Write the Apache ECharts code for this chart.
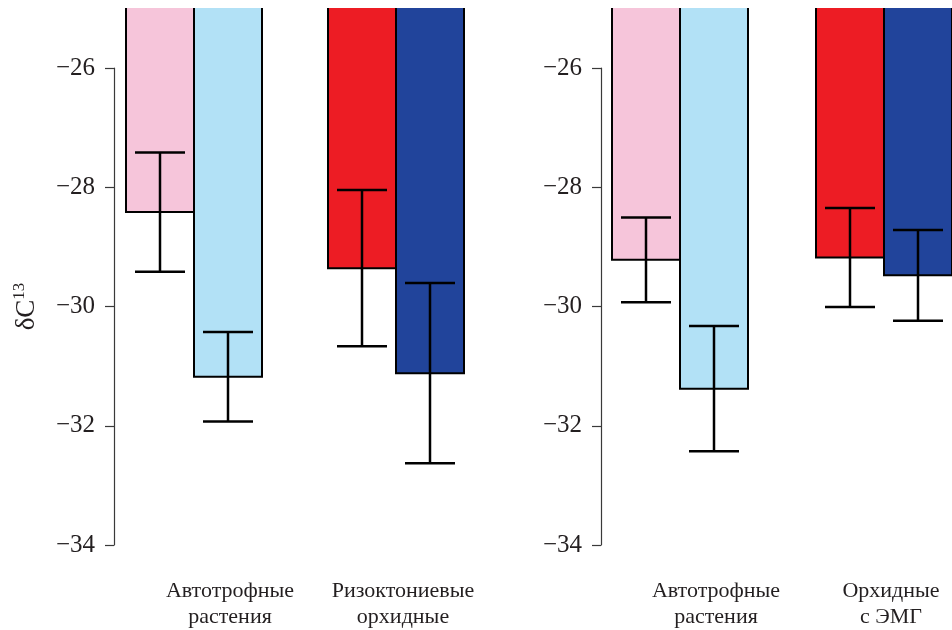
<!DOCTYPE html>
<html>
<head>
<meta charset="utf-8">
<script src="https://cdn.jsdelivr.net/npm/echarts@6/dist/echarts.min.js"></script>
<style>
    html, body { margin: 0; padding: 0; background: #fff; }
    #chart { width: 952px; height: 630px; }
</style>
</head>
<body>
<div id="chart"></div>
<script>
    // категории по панелям
    var catsLeft = ['Автотрофные\nрастения', 'Ризоктониевые\nорхидные']
    var catsRight = ['Автотрофные\nрастения', 'Орхидные\nс ЭМГ']

    // левая панель: первый и второй столбец в каждой группе
    var leftMean1 = [-28.42, -29.36]
    var leftErr1 = [1.0, 1.31]
    var leftMean2 = [-31.18, -31.12]
    var leftErr2 = [0.75, 1.51]

    // правая панель
    var rightMean1 = [-29.22, -29.18]
    var rightErr1 = [0.71, 0.83]
    var rightMean2 = [-31.38, -29.48]
    var rightErr2 = [1.05, 0.76]

    var colors1 = ['#f6c5da', '#ed1c24']
    var colors2 = ['#b2e1f6', '#21449b']

    var yTicks = [-34, -32, -30, -28, -26]

    var font = 'Liberation Serif'
    var BAR_W = 68

    function bars(mean, colors, xi) {
        return {
            type: 'bar',
            xAxisIndex: xi,
            yAxisIndex: xi,
            barWidth: BAR_W,
            barGap: '0%',
            silent: true,
            data: mean.map(function (v, i) {
                return { value: v, itemStyle: { color: colors[i], borderWidth: 0 } }
            })
        }
    }

    // контур столбца (без верхней грани) + планки погрешностей
    function outlines(mean, err, xi, shift) {
        return {
            type: 'custom',
            xAxisIndex: xi,
            yAxisIndex: xi,
            silent: true,
            z: 5,
            data: mean.map(function (v, i) { return [i, v, v - err[i], v + err[i]] }),
            renderItem: function (params, api) {
                var m = api.coord([api.value(0), api.value(1)])
                var lo = api.coord([api.value(0), api.value(2)])
                var hi = api.coord([api.value(0), api.value(3)])
                var top = params.coordSys.y
                var x = m[0] + shift
                var x0 = x - BAR_W / 2, x1 = x + BAR_W / 2
                var cap = 25
                var st = { stroke: '#000', lineWidth: 2.5, fill: null }
                return {
                    type: 'group',
                    children: [
                        { type: 'polyline', shape: { points: [[x0, top], [x0, m[1]], [x1, m[1]], [x1, top]] },
                          style: { stroke: '#000', lineWidth: 2, fill: null } },
                        { type: 'line', shape: { x1: x, y1: lo[1], x2: x, y2: hi[1] }, style: st },
                        { type: 'line', shape: { x1: x - cap, y1: lo[1], x2: x + cap, y2: lo[1] }, style: st },
                        { type: 'line', shape: { x1: x - cap, y1: hi[1], x2: x + cap, y2: hi[1] }, style: st }
                    ]
                }
            }
        }
    }

    var labelRich = {
        a: { fontFamily: font, fontSize: 22, color: '#231f20', lineHeight: 26, padding: [0, 0, 0, 72] },
        b: { fontFamily: font, fontSize: 22, color: '#231f20', lineHeight: 26, padding: [0, 0, 0, 14] }
    }

    function catAxis(cats, gi) {
        return {
            type: 'category',
            gridIndex: gi,
            data: cats,
            axisLine: { show: false },
            axisTick: { show: false },
            axisLabel: {
                margin: 33,
                interval: 0,
                formatter: function (v, i) {
                    var st = i === 0 ? 'a' : 'b'
                    return v.split('\n').map(function (s) { return '{' + st + '|' + s + '}' }).join('\n')
                },
                rich: labelRich
            }
        }
    }

    function hiddenY(gi) {
        return {
            type: 'value', gridIndex: gi, min: -34, max: -25,
            axisLine: { show: false }, axisTick: { show: false },
            axisLabel: { show: false }, splitLine: { show: false }
        }
    }

    function shownY(gi, withName) {
        var ax = {
            type: 'value', gridIndex: gi, min: yTicks[0], max: yTicks[yTicks.length - 1], interval: 2,
            axisLine: { show: true, lineStyle: { color: '#3a3a3a', width: 1.2 } },
            axisTick: { show: true, length: 9, lineStyle: { color: '#3a3a3a', width: 1.2 } },
            axisLabel: {
                margin: 19, fontFamily: font, fontSize: 25, color: '#231f20',
                formatter: function (v) { return String(v).replace('-', '\u2212') }
            },
            splitLine: { show: false }
        }
        if (withName) {
            ax.name = '{d|δC}{s|13}'
            ax.nameLocation = 'middle'
            ax.nameRotate = 90
            ax.nameGap = 74
            ax.nameTextStyle = {
                rich: {
                    d: { fontFamily: font, fontStyle: 'normal', fontSize: 27, color: '#231f20', verticalAlign: 'bottom' },
                    s: { fontFamily: font, fontStyle: 'normal', fontSize: 17, color: '#231f20', verticalAlign: 'top', padding: [0, 0, 12, 0] }
                }
            }
        }
        return ax
    }

    var myChart = echarts.init(document.getElementById('chart'))
    var option = {
        animation: false,
        backgroundColor: '#fff',
        grid: [
            { left: 93, width: 404, top: 8, bottom: 85, outerBoundsMode: 'none' },    // столбцы слева
            { left: 578, width: 408, top: 8, bottom: 85, outerBoundsMode: 'none' },   // столбцы справа
            { left: 114, width: 10, top: 68, bottom: 85, outerBoundsMode: 'none' },   // ось слева
            { left: 601, width: 10, top: 68, bottom: 85, outerBoundsMode: 'none' }    // ось справа
        ],
        xAxis: [
            catAxis(catsLeft, 0),
            catAxis(catsRight, 1),
            { type: 'category', gridIndex: 2, show: false, data: ['x'] },
            { type: 'category', gridIndex: 3, show: false, data: ['x'] }
        ],
        yAxis: [hiddenY(0), hiddenY(1), shownY(2, true), shownY(3, false)],
        series: [
            bars(leftMean1, colors1, 0),
            bars(leftMean2, colors2, 0),
            bars(rightMean1, colors1, 1),
            bars(rightMean2, colors2, 1),
            outlines(leftMean1, leftErr1, 0, -BAR_W / 2),
            outlines(leftMean2, leftErr2, 0, BAR_W / 2),
            outlines(rightMean1, rightErr1, 1, -BAR_W / 2),
            outlines(rightMean2, rightErr2, 1, BAR_W / 2)
        ]
    }
    myChart.setOption(option)
</script>
</body>
</html>
